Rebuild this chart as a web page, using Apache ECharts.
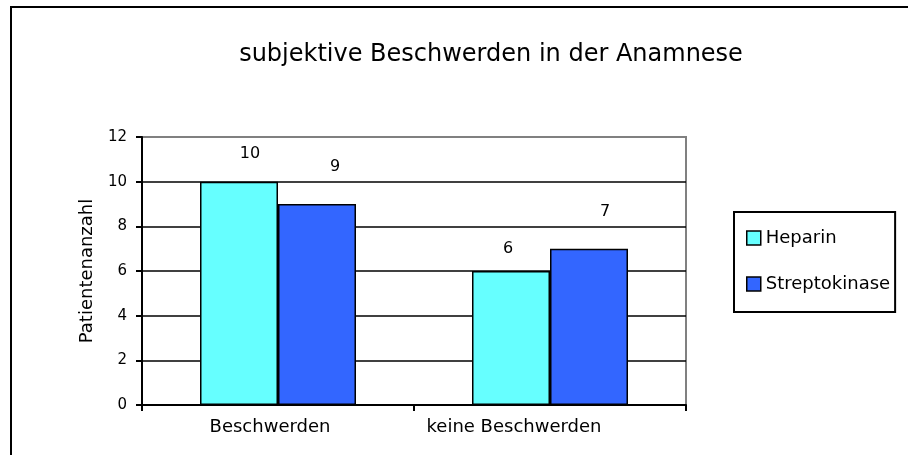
<!DOCTYPE html>
<html>
<head>
<meta charset="utf-8">
<script src="https://cdn.jsdelivr.net/npm/echarts@6/dist/echarts.min.js"></script>
<style>
html, body { margin: 0; padding: 0; background: #fff; }
#chart { width: 908px; height: 455px; }
</style>
</head>
<body>
<div id="chart"></div>
<script>
var titleText = 'subjektive Beschwerden in der Anamnese';
var yAxisName = 'Patientenanzahl';
var categories = ['Beschwerden', 'keine Beschwerden'];
var seriesNames = ['Heparin', 'Streptokinase'];
var heparin = [10, 6];
var streptokinase = [9, 7];
var yTicks = [0, 2, 4, 6, 8, 10, 12];

// label placement (style only)
var heparinLabelOffset = [[11, -20], [-3, -14]];
var streptoLabelOffset = [[18, -29], [16, -29]];
var xLabelShift = [16, 72];

var font = 'DejaVu Sans';

function buildData(values, offsets) {
	return values.map(function(v, i) {
		return { value: v, label: { offset: offsets[i] } };
	});
}

var rich = {};
categories.forEach(function(c, i) {
	rich['c' + i] = { fontFamily: font, fontSize: 18, color: '#000', padding: [0, xLabelShift[i], 0, 0] };
});

var myChart = echarts.init(document.getElementById('chart'), null, { renderer: 'canvas' });
var option = {
	backgroundColor: '#fff',
	animation: false,
	color: ['#66FFFF', '#3366FF'],
	graphic: [
		{
			type: 'rect',
			shape: { x: 11, y: 7, width: 1000, height: 1000 },
			style: { fill: 'none', stroke: '#000', lineWidth: 2 },
			silent: true
		}
	],
	title: {
		text: titleText,
		left: 486,
		textAlign: 'center',
		top: 38,
		textStyle: { fontFamily: font, fontSize: 24, fontWeight: 'normal', color: '#000' }
	},
	legend: {
		orient: 'vertical',
		left: 734,
		top: 212,
		padding: [17, 5, 19, 12],
		itemGap: 28,
		itemWidth: 14,
		itemHeight: 14,
		itemStyle: { borderColor: '#000', borderWidth: 1.5 },
		icon: 'rect',
		borderColor: '#000',
		borderWidth: 2,
		textStyle: { fontFamily: font, fontSize: 18, color: '#000' },
		data: seriesNames
	},
	grid: {
		left: 142,
		right: 222,
		top: 137,
		bottom: 50,
		show: true,
		borderColor: '#808080',
		borderWidth: 2,
		containLabel: false
	},
	xAxis: {
		type: 'category',
		data: categories,
		axisLine: { show: true, lineStyle: { color: '#000', width: 2 } },
		axisTick: { show: true, interval: 0, alignWithLabel: false, length: 6, lineStyle: { color: '#000', width: 2 } },
		axisLabel: {
			interval: 0,
			hideOverlap: false,
			margin: 13,
			fontFamily: font,
			fontSize: 18,
			color: '#000',
			formatter: function(value, idx) { return '{c' + idx + '|' + value + '}'; },
			rich: rich
		},
		splitLine: { show: false }
	},
	yAxis: {
		type: 'value',
		min: yTicks[0],
		max: yTicks[yTicks.length - 1],
		interval: yTicks[1] - yTicks[0],
		name: yAxisName,
		nameLocation: 'middle',
		nameGap: 46,
		nameTextStyle: { fontFamily: font, fontSize: 18, color: '#000' },
		axisLine: { show: true, lineStyle: { color: '#000', width: 2 } },
		axisTick: { show: true, length: 6, lineStyle: { color: '#000', width: 2 } },
		axisLabel: { margin: 15, fontFamily: font, fontSize: 15, color: '#000' },
		splitLine: { show: true, showMaxLine: false, lineStyle: { color: '#000', width: 1.5 } }
	},
	series: [
		{
			name: seriesNames[0],
			type: 'bar',
			barWidth: 78,
			barGap: '0%',
			itemStyle: { borderColor: '#000', borderWidth: 1.5 },
			label: { show: true, position: 'top', distance: 0, fontFamily: font, fontSize: 16, color: '#000' },
			data: buildData(heparin, heparinLabelOffset)
		},
		{
			name: seriesNames[1],
			type: 'bar',
			barWidth: 78,
			barGap: '0%',
			itemStyle: { borderColor: '#000', borderWidth: 1.5 },
			label: { show: true, position: 'top', distance: 0, fontFamily: font, fontSize: 16, color: '#000' },
			data: buildData(streptokinase, streptoLabelOffset)
		}
	]
};
myChart.setOption(option);
</script>
</body>
</html>
